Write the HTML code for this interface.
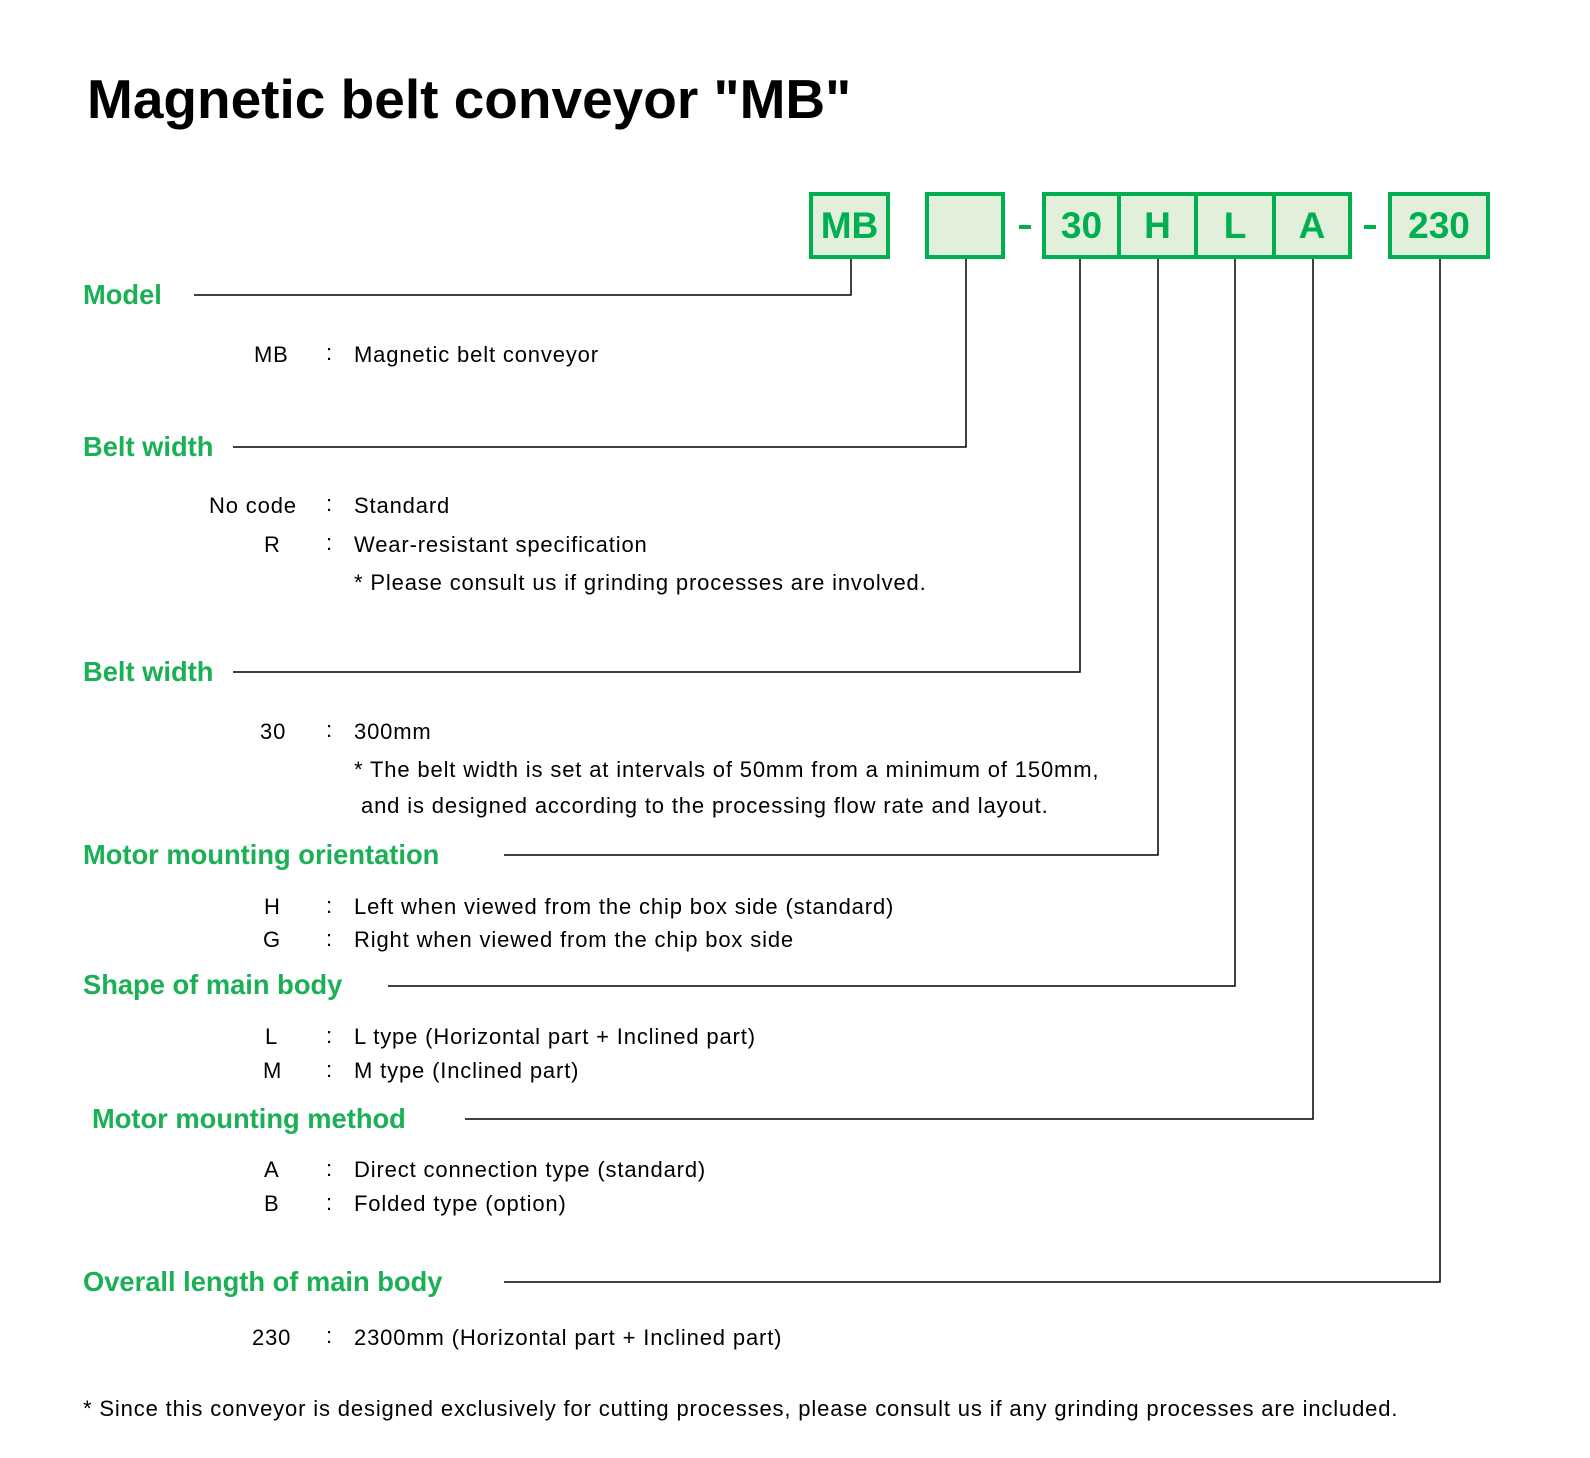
<!DOCTYPE html>
<html><head><meta charset="utf-8"><style>
html,body{margin:0;padding:0;background:#fff}
body{width:1590px;height:1458px;position:relative;overflow:hidden;font-family:"Liberation Sans",Arial,sans-serif}
.t{position:absolute;white-space:nowrap;line-height:1}
.title{left:87px;top:72px;font-size:55px;font-weight:bold;color:#000}
.h{font-size:27.3px;font-weight:bold;color:#1bb055}
.b{font-size:22px;color:#000;letter-spacing:0.85px}
.box{position:absolute;top:192px;height:67px;box-sizing:border-box;border:4px solid #00b050;background:#e2efda;color:#00b050;font-weight:bold;font-size:37px;display:flex;align-items:center;justify-content:center}
.dash{position:absolute;top:225px;width:12px;height:4px;background:#00b050}
</style></head><body>
<div class="t title">Magnetic belt conveyor "MB"</div>

<div class="box" style="left:809px;width:81px">MB</div>
<div class="box" style="left:925px;width:80px"></div>
<div class="dash" style="left:1019px"></div>
<div class="box" style="left:1042px;width:79px">30</div>
<div class="box" style="left:1117px;width:81px">H</div>
<div class="box" style="left:1194px;width:82px">L</div>
<div class="box" style="left:1272px;width:80px">A</div>
<div class="dash" style="left:1364px"></div>
<div class="box" style="left:1388px;width:102px">230</div>

<svg width="1590" height="1458" style="position:absolute;left:0;top:0" fill="none" stroke="#000" stroke-width="1.5">
<polyline points="194,295 851,295 851,259"/>
<polyline points="233,447 966,447 966,259"/>
<polyline points="233,672 1080,672 1080,259"/>
<polyline points="504,855 1158,855 1158,259"/>
<polyline points="388,986 1235,986 1235,259"/>
<polyline points="465,1119 1313,1119 1313,259"/>
<polyline points="504,1282 1440,1282 1440,259"/>
</svg>

<div class="t h" style="left:83px;top:281px">Model</div>
<div class="t b" style="left:254px;top:344px">MB</div>
<div class="t b" style="left:326px;top:342px">:</div>
<div class="t b" style="left:354px;top:344px">Magnetic belt conveyor</div>

<div class="t h" style="left:83px;top:433px">Belt width</div>
<div class="t b" style="left:209px;top:495px">No code</div>
<div class="t b" style="left:326px;top:493px">:</div>
<div class="t b" style="left:354px;top:495px">Standard</div>
<div class="t b" style="left:264px;top:534px">R</div>
<div class="t b" style="left:326px;top:532px">:</div>
<div class="t b" style="left:354px;top:534px">Wear-resistant specification</div>
<div class="t b" style="left:354px;top:572px">* Please consult us if grinding processes are involved.</div>

<div class="t h" style="left:83px;top:658px">Belt width</div>
<div class="t b" style="left:260px;top:721px">30</div>
<div class="t b" style="left:326px;top:719px">:</div>
<div class="t b" style="left:354px;top:721px">300mm</div>
<div class="t b" style="left:354px;top:759px">* The belt width is set at intervals of 50mm from a minimum of 150mm,</div>
<div class="t b" style="left:361px;top:795px">and is designed according to the processing flow rate and layout.</div>

<div class="t h" style="left:83px;top:841px">Motor mounting orientation</div>
<div class="t b" style="left:264px;top:896px">H</div>
<div class="t b" style="left:326px;top:895px">:</div>
<div class="t b" style="left:354px;top:896px">Left when viewed from the chip box side (standard)</div>
<div class="t b" style="left:263px;top:929px">G</div>
<div class="t b" style="left:326px;top:928px">:</div>
<div class="t b" style="left:354px;top:929px">Right when viewed from the chip box side</div>

<div class="t h" style="left:83px;top:971px">Shape of main body</div>
<div class="t b" style="left:265px;top:1026px">L</div>
<div class="t b" style="left:326px;top:1025px">:</div>
<div class="t b" style="left:354px;top:1026px">L type (Horizontal part + Inclined part)</div>
<div class="t b" style="left:263px;top:1060px">M</div>
<div class="t b" style="left:326px;top:1059px">:</div>
<div class="t b" style="left:354px;top:1060px">M type (Inclined part)</div>

<div class="t h" style="left:92px;top:1105px">Motor mounting method</div>
<div class="t b" style="left:264px;top:1159px">A</div>
<div class="t b" style="left:326px;top:1158px">:</div>
<div class="t b" style="left:354px;top:1159px">Direct connection type (standard)</div>
<div class="t b" style="left:264px;top:1193px">B</div>
<div class="t b" style="left:326px;top:1192px">:</div>
<div class="t b" style="left:354px;top:1193px">Folded type (option)</div>

<div class="t h" style="left:83px;top:1268px">Overall length of main body</div>
<div class="t b" style="left:252px;top:1327px">230</div>
<div class="t b" style="left:326px;top:1325px">:</div>
<div class="t b" style="left:354px;top:1327px">2300mm (Horizontal part + Inclined part)</div>

<div class="t b" style="left:83px;top:1398px">* Since this conveyor is designed exclusively for cutting processes, please consult us if any grinding processes are included.</div>
</body></html>
